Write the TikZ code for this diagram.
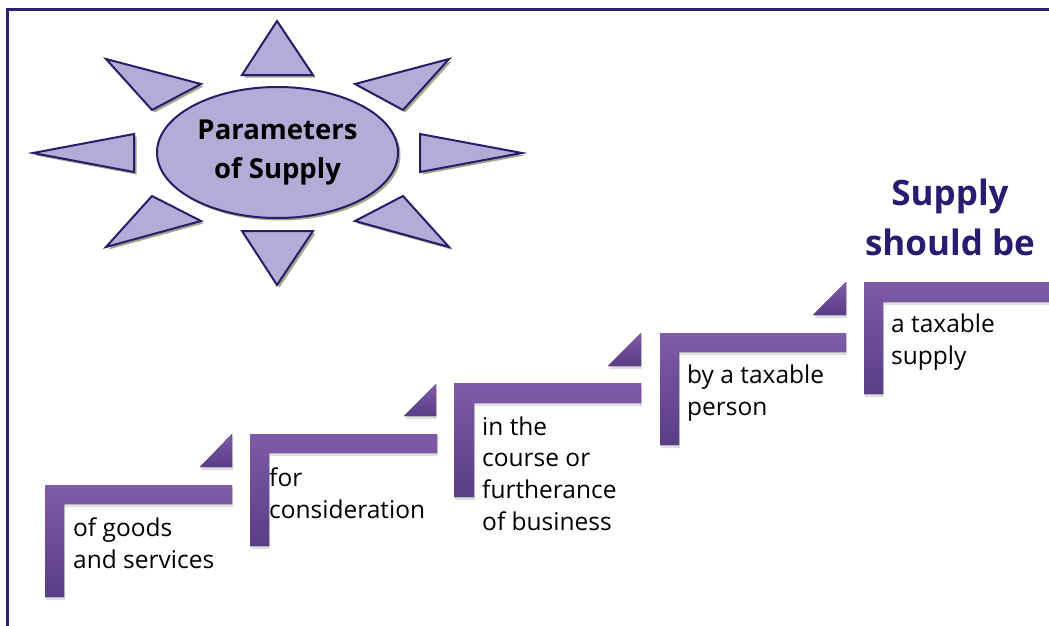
\documentclass[tikz,border=0pt]{standalone}
\usepackage{fontspec}
\setmainfont{Open Sans}
\usetikzlibrary{shapes.geometric,shadows}
\definecolor{sunfill}{HTML}{B4ACD7}
\definecolor{sunline}{HTML}{2A1B6B}
\definecolor{sunshade}{HTML}{A3A787}
\definecolor{steptop}{HTML}{7E5BA8}
\definecolor{stepbot}{HTML}{5A3D85}
\definecolor{framecol}{HTML}{2C1D6E}
\definecolor{headcol}{HTML}{2B1A70}
\begin{document}
\begin{tikzpicture}[x=1pt,y=-1pt,
  ray/.style={fill=sunfill,draw=sunline,line width=2pt,line join=miter,drop shadow={fill=sunshade,opacity=1,shadow xshift=2.5pt,shadow yshift=-2.5pt}},
  hub/.style={shape=ellipse,ray,minimum width=241pt,minimum height=131pt,inner sep=0pt,align=center,font=\fontsize{27.5}{39}\selectfont\bfseries},
  stepbar/.style={top color=steptop,bottom color=stepbot,draw=none,drop shadow={opacity=0.25,shadow xshift=1pt,shadow yshift=-3pt}},
  steptext/.style={anchor=base west,align=left,inner sep=0pt,font=\fontsize{24.5}{31.6}\selectfont},
  heading/.style={anchor=base,align=center,inner sep=0pt,text=headcol,font=\fontsize{35}{50}\selectfont\bfseries},
  frame/.style={draw=framecol,line width=3pt}]
\def\w{187}
\def\t{19}
\def\h{112}

\clip (0,0) rectangle (1049,626);
\draw[frame] (7.5,9.5) rectangle (1070,650);

% sun
\draw[ray] (242,75) -- (277,21) -- (313,75) -- cycle;
\draw[ray] (242,231) -- (313,231) -- (277,285) -- cycle;
\draw[ray] (134,134) -- (33,153) -- (134,172) -- cycle;
\draw[ray] (420,134) -- (522,153) -- (420,172) -- cycle;
\draw[ray] (106,59) -- (201,84) -- (152,110) -- cycle;
\draw[ray] (449,59) -- (355,84) -- (403,110) -- cycle;
\draw[ray] (152,196) -- (201,221) -- (106,247) -- cycle;
\draw[ray] (403,196) -- (355,221) -- (449,247) -- cycle;
\node[hub] (params) at (277.5,152.5) {Parameters\\of Supply};

\node[heading] (title) at (950,255) {Supply\\should be};

% steps
\fill[stepbar] (45,485) -- ++(\w,0) -- ++(0,\t) -- ++(-\w+\t,0) -- ++(0,\h-\t) -- ++(-\t,0) -- cycle;
\fill[stepbar] (200,467) -- (232,467) -- (232,434) -- cycle;
\node[steptext] (s1) at (73,568) {of goods\\and services};

\fill[stepbar] (250,434) -- ++(\w,0) -- ++(0,\t) -- ++(-\w+\t,0) -- ++(0,\h-\t) -- ++(-\t,0) -- cycle;
\fill[stepbar] (404,416) -- (436,416) -- (436,384) -- cycle;
\node[steptext] (s2) at (269,518) {for\\consideration};

\fill[stepbar] (454,383) -- ++(\w,0) -- ++(0,\t+1) -- ++(-\w+\t+1,0) -- ++(0,\h-\t+1) -- ++(-\t-1,0) -- cycle;
\fill[stepbar] (608,366) -- (641,366) -- (641,333) -- cycle;
\node[steptext] (s3) at (482,530) {in the\\course or\\furtherance\\of business};

\fill[stepbar] (660,333) -- ++(\w-1,0) -- ++(0,\t) -- ++(-\w+\t+1,0) -- ++(0,\h-\t) -- ++(-\t,0) -- cycle;
\fill[stepbar] (813,315) -- (846,315) -- (846,282) -- cycle;
\node[steptext] (s4) at (687,415) {by a taxable\\person};

\fill[stepbar] (864,282) -- ++(\w+10,0) -- ++(0,\t+1) -- ++(-\w-10+\t,0) -- ++(0,\h-\t-1) -- ++(-\t,0) -- cycle;
\node[steptext] (s5) at (891,364) {a taxable\\supply};
\end{tikzpicture}
\end{document}
